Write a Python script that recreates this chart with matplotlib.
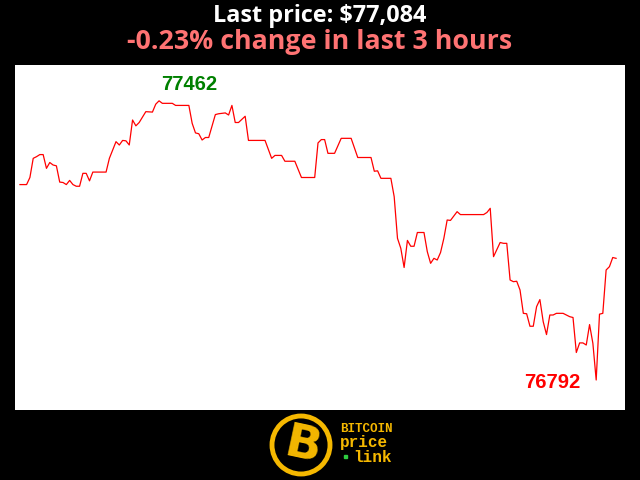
import matplotlib
matplotlib.use("Agg")
import matplotlib.pyplot as plt
import matplotlib.patches as patches

# price trace over the last 3 hours (minute index, price in USD)
minutes = [0, 2, 3, 4, 5, 6, 7, 8, 9, 10, 11, 12, 13, 14, 15, 16, 17, 18, 19, 20,
           21, 22, 26, 27, 29, 30, 31, 32, 33, 34, 35, 36, 38, 40, 41, 42, 43, 46, 47, 51,
           52, 53, 54, 55, 56, 57, 59, 60, 62, 63, 64, 65, 66, 68, 69, 74, 76, 77, 79, 80,
           83, 85, 89, 90, 91, 92, 93, 95, 97, 100, 102, 106, 107, 108, 109, 112, 113, 114, 115, 116,
           117, 118, 119, 120, 122, 123, 124, 125, 126, 127, 128, 129, 130, 132, 133, 140, 141, 142, 143, 144,
           145, 146, 147, 148, 149, 150, 151, 152, 153, 154, 155, 156, 157, 158, 159, 160, 161, 162, 164, 166,
           167, 168, 169, 170, 171, 172, 173, 174, 175, 176, 177, 178, 179, 180]
prices = [77261, 77261, 77278, 77324, 77328, 77333, 77333, 77300, 77314, 77308,
          77306, 77267, 77266, 77261, 77271, 77261, 77257, 77257, 77288, 77288,
          77270, 77291, 77291, 77324, 77364, 77356, 77367, 77366, 77356, 77416,
          77402, 77410, 77436, 77435, 77454, 77462, 77456, 77456, 77451, 77451,
          77408, 77385, 77383, 77368, 77374, 77374, 77429, 77431, 77433, 77428,
          77451, 77410, 77410, 77425, 77367, 77367, 77324, 77331, 77331, 77317,
          77317, 77278, 77278, 77361, 77369, 77369, 77336, 77336, 77372, 77372,
          77326, 77326, 77293, 77294, 77276, 77276, 77232, 77132, 77108, 77062,
          77127, 77113, 77113, 77146, 77146, 77100, 77072, 77084, 77080, 77098,
          77132, 77176, 77175, 77196, 77189, 77189, 77194, 77204, 77088, 77105,
          77122, 77120, 77120, 77032, 77028, 77029, 77008, 76952, 76951, 76921,
          76921, 76968, 76985, 76932, 76901, 76948, 76948, 76952, 76952, 76944,
          76942, 76858, 76881, 76881, 76876, 76925, 76880, 76792, 76950, 76952,
          77056, 77064, 77086, 77084]

last_price = "$77,084"
change_text = "-0.23% change in last 3 hours"
high_label = "77462"
low_label = "76792"

plt.rcParams['font.family'] = ['Open Sans', 'DejaVu Sans']

fig = plt.figure(figsize=(6.4, 4.8), dpi=100, facecolor='black')
ax = fig.add_axes([15/640, 70/480, 610/640, 345/480])
ax.set_facecolor('white')
ax.plot(minutes, prices, color='#ff0000', lw=0.9)
ax.set_xlim(-1.5, 182.7)
ax.set_ylim(76720, 77548)
ax.set_xticks([])
ax.set_yticks([])
for s in ax.spines.values():
    s.set_visible(False)

ax.text(51, 77502, high_label, color='#008000', fontsize=14.5, fontweight='bold',
        ha='center', va='center', family='Liberation Sans')
ax.text(160.7, 76786, low_label, color='#ff0000', fontsize=14.5, fontweight='bold',
        ha='center', va='center', family='Liberation Sans')

fig.text(0.5, 1 - 16/480, "Last price: " + last_price, color='white', fontsize=16.8,
         fontweight='bold', ha='center', va='center')
fig.text(0.5, 1 - 42/480, change_text, color='#ff7373', fontsize=19.3,
         fontweight='bold', ha='center', va='center')

# logo at the bottom
lax = fig.add_axes([0, 0, 1, 70/480])
lax.set_xlim(0, 640)
lax.set_ylim(70, 0)
lax.axis('off')
gold = '#f5b800'
lax.add_patch(patches.Circle((301, 445 - 410), 29, facecolor='black', edgecolor=gold, lw=3.5))
lax.text(303, 447 - 410, "B", color=gold, fontsize=34, fontweight='heavy',
         ha='center', va='center', rotation=-12, family='DejaVu Sans')
lax.text(340, 429 - 410, "BITCOIN", color=gold, fontsize=9, fontweight='bold',
         ha='left', va='center', family='Liberation Mono')
lax.text(340, 443 - 410, "price", color=gold, fontsize=11.5, fontweight='bold',
         ha='left', va='center', family='Liberation Mono')
lax.text(353, 457 - 410, "link", color=gold, fontsize=11.5, fontweight='bold',
         ha='left', va='center', family='Liberation Mono')
lax.add_patch(patches.Rectangle((344, 455 - 410), 3, 3, color='#2ecc40'))

fig.savefig('out.png', dpi=100, facecolor='black')
